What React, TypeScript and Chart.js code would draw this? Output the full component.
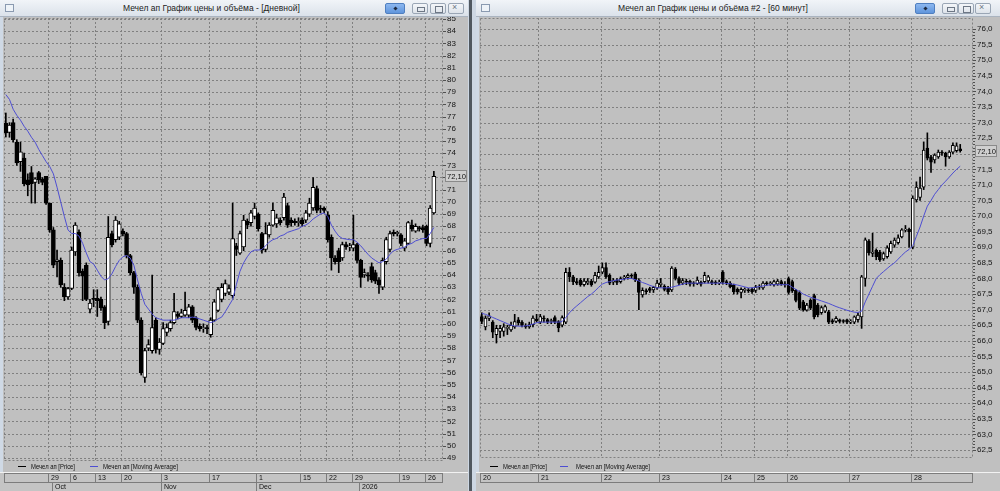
import React, { useEffect, useRef } from "react";
import { Chart, registerables } from "chart.js";

Chart.register(...registerables);

type OHLC = [number, number, number, number]; // open, high, low, close

// ---------------- Daily panel data ----------------
const dailyCandles: OHLC[] = [
  [76.47, 77.29, 75.32, 75.65], [75.7, 76.5, 75.3, 76.3], [76.5, 76.8, 74.9, 75.1], [74.9, 75.1, 73.0, 73.2],
  [73.3, 74.9, 72.5, 74.1], [73.6, 74.0, 71.3, 71.5], [71.8, 72.3, 70.5, 71.4], [72.4, 72.9, 69.9, 71.5],
  [71.6, 72.0, 69.9, 71.9], [72.4, 72.5, 71.5, 71.8], [71.9, 72.0, 71.4, 71.6], [72.1, 72.1, 69.8, 69.9],
  [69.9, 69.9, 67.5, 67.7], [67.7, 67.9, 64.6, 64.8], [65.1, 66.05, 63.85, 65.25], [65.2, 65.4, 63.0, 63.2],
  [63.0, 63.3, 61.9, 62.2], [62.2, 63.0, 62.0, 62.9], [62.9, 66.3, 62.8, 66.05], [65.9, 68.3, 65.6, 68.1],
  [67.5, 67.7, 63.9, 64.2], [64.3, 64.5, 61.9, 63.9], [64.8, 65.0, 61.9, 62.0], [61.2, 62.0, 60.9, 61.7],
  [62.1, 62.8, 61.4, 62.0], [62.1, 62.8, 60.6, 61.9], [62.0, 62.2, 61.1, 61.3], [61.4, 61.5, 59.6, 60.1],
  [60.2, 68.8, 59.9, 67.1], [67.4, 67.6, 66.3, 66.5], [66.9, 68.8, 66.7, 68.5], [67.1, 68.4, 66.9, 68.2],
  [67.6, 67.8, 67.2, 67.4], [67.4, 67.5, 65.4, 65.6], [65.6, 65.7, 64.0, 64.2], [64.2, 64.3, 62.5, 63.0],
  [63.0, 63.2, 60.1, 60.3], [60.3, 60.5, 55.8, 56.0], [55.6, 58.0, 55.2, 57.8], [58.0, 58.7, 57.8, 58.3],
  [57.8, 64.0, 57.6, 59.7], [60.3, 60.5, 57.6, 57.9], [57.9, 58.8, 57.5, 58.5], [58.4, 60.1, 58.3, 59.6],
  [59.3, 60.0, 59.0, 59.7], [59.6, 60.3, 59.4, 60.1], [60.1, 62.5, 60.0, 61.0], [60.8, 61.0, 60.4, 60.6],
  [60.6, 61.2, 60.5, 60.9], [60.7, 62.6, 60.6, 61.1], [60.7, 61.6, 60.5, 61.4], [61.4, 61.5, 60.1, 60.3],
  [60.5, 60.6, 59.5, 59.7], [59.8, 60.0, 59.4, 59.6], [59.6, 60.0, 59.3, 59.7], [59.7, 59.9, 59.2, 59.6],
  [59.1, 60.5, 58.9, 60.3], [60.3, 62.0, 60.2, 61.8], [61.1, 63.0, 61.0, 62.8], [62.0, 63.3, 61.8, 63.0],
  [62.5, 63.6, 62.3, 63.3], [62.6, 63.2, 62.4, 62.9], [62.3, 69.9, 62.1, 67.0], [66.4, 66.6, 65.6, 66.1],
  [65.8, 67.6, 65.7, 67.4], [66.3, 68.9, 66.0, 68.5], [68.4, 68.6, 67.8, 68.1], [68.3, 69.3, 68.0, 69.1],
  [68.8, 69.9, 68.6, 69.5], [69.0, 69.1, 67.6, 67.8], [67.4, 67.5, 65.8, 66.05], [66.1, 68.3, 65.9, 67.4],
  [67.3, 68.3, 67.1, 68.1], [68.1, 69.9, 68.0, 69.3], [68.2, 69.0, 67.9, 68.7], [68.5, 68.7, 68.1, 68.3],
  [68.7, 70.7, 68.5, 70.4], [69.7, 69.9, 67.9, 68.1], [68.5, 68.7, 68.0, 68.3], [68.4, 68.6, 68.1, 68.3],
  [68.3, 68.7, 68.0, 68.4], [68.5, 68.7, 68.0, 68.2], [68.5, 69.3, 68.3, 69.1], [69.0, 70.3, 68.8, 69.9],
  [69.5, 72.0, 69.3, 71.2], [71.1, 71.3, 69.1, 69.3], [69.5, 69.7, 69.1, 69.4], [69.5, 69.6, 69.1, 69.3],
  [68.9, 69.2, 66.7, 66.9], [67.1, 67.3, 64.4, 65.4], [65.4, 65.6, 64.9, 65.1], [66.0, 66.2, 64.2, 65.1],
  [65.4, 66.7, 65.2, 66.5], [66.5, 66.7, 66.1, 66.3], [66.3, 66.6, 66.0, 66.4], [66.2, 68.9, 66.0, 66.5],
  [66.5, 66.6, 65.0, 65.2], [65.2, 65.3, 63.0, 63.8], [64.0, 64.5, 63.8, 64.2], [64.0, 64.2, 63.5, 63.9],
  [64.7, 65.0, 63.4, 63.6], [64.2, 64.4, 63.3, 63.5], [63.6, 63.8, 62.5, 63.2], [63.0, 65.4, 62.8, 65.2],
  [65.1, 67.1, 64.9, 66.9], [66.1, 67.6, 65.9, 67.4], [67.5, 67.7, 67.2, 67.4], [67.4, 67.6, 67.2, 67.5],
  [67.3, 67.4, 66.4, 66.6], [66.2, 67.0, 66.0, 66.8], [66.6, 68.4, 66.5, 68.3], [68.1, 68.5, 67.6, 67.8],
  [67.6, 68.2, 67.5, 68.0], [67.9, 68.0, 67.6, 67.8], [67.9, 68.1, 67.5, 67.7], [68.0, 68.1, 66.4, 66.6],
  [66.6, 69.7, 66.3, 69.5], [69.1, 72.5, 69.0, 72.1],
];

const dailyMA: number[] = [
  78.8, 78.4, 77.6, 77.1, 76.7, 76.2, 75.8, 75.3, 74.9, 74.3,
  73.8, 73.3, 72.9, 72.3, 71.2, 70.0, 68.8, 67.7, 67.4, 67.4,
  67.2, 66.6, 65.8, 65.1, 64.9, 64.4, 63.9, 63.6, 63.7, 64.1,
  64.7, 65.2, 65.5, 65.6, 65.4, 64.8, 63.6, 62.5, 61.6, 61.2,
  60.8, 60.5, 60.4, 60.3, 60.3, 60.3, 60.3, 60.4, 60.5, 60.5,
  60.5, 60.55, 60.5, 60.4, 60.3, 60.2, 60.1, 60.2, 60.4, 60.55,
  61.0, 61.5, 62.0, 63.2, 64.3, 65.0, 65.5, 65.9, 66.05, 66.05,
  66.1, 66.4, 66.7, 66.9, 67.0, 67.2, 67.3, 67.5, 67.6, 67.7,
  67.8, 68.0, 68.1, 68.3, 68.6, 68.8, 69.0, 69.1, 68.8, 68.1,
  67.6, 67.2, 67.0, 66.95, 66.9, 66.9, 66.7, 66.4, 66.05, 65.7,
  65.4, 65.2, 65.0, 65.1, 65.3, 65.7, 66.0, 66.1, 66.2, 66.3,
  66.5, 66.6, 66.8, 66.9, 67.0, 67.0, 67.4, 67.9,
];

const dailyYTicks: number[] = [
  49, 50, 51, 52, 53, 54, 55, 56, 57, 58, 59, 60, 61, 62, 63, 64, 65, 66, 67,
  68, 69, 70, 71, 72, 73, 74, 75, 76, 77, 78, 79, 80, 81, 82, 83, 84, 85,
];
// [label, index of first bar of that week]
const dailyDayTicks: [string, number][] = [
  ["29", 12], ["6", 18], ["13", 25], ["20", 32], ["3", 43], ["17", 56],
  ["1", 69], ["15", 81], ["22", 88], ["29", 95], ["19", 108], ["26", 115],
];
const dailyMonthTicks: [string, number][] = [["Oct", 13], ["Nov", 43], ["Dec", 69], ["2026", 97]];
const dailyLastClose = 72.1;

// ---------------- Hourly panel data ----------------
const hourlyCandles: OHLC[] = [
  [66.78, 66.9, 66.55, 66.62], [66.45, 66.8, 66.35, 66.73], [66.72, 66.9, 66.65, 66.8], [66.6, 66.65, 66.1, 66.28],
  [66.2, 66.5, 65.93, 66.4], [66.3, 66.5, 66.1, 66.4], [66.3, 66.55, 66.15, 66.45], [66.4, 66.5, 66.2, 66.4],
  [66.35, 66.6, 66.3, 66.5], [66.45, 66.85, 66.4, 66.62], [66.67, 66.75, 66.5, 66.58], [66.6, 66.65, 66.45, 66.5],
  [66.48, 66.55, 66.4, 66.45], [66.45, 66.6, 66.4, 66.52], [66.52, 66.8, 66.45, 66.73], [66.7, 66.85, 66.6, 66.65],
  [66.6, 66.85, 66.55, 66.78], [66.72, 66.8, 66.6, 66.7], [66.68, 66.72, 66.55, 66.6], [66.62, 66.7, 66.55, 66.65],
  [66.75, 66.8, 66.55, 66.6], [66.62, 66.65, 66.29, 66.42], [66.5, 66.8, 66.45, 66.75], [66.6, 68.33, 66.55, 68.2],
  [68.2, 68.35, 67.9, 68.05], [68.05, 68.1, 67.8, 67.9], [67.9, 68.0, 67.8, 67.85], [67.95, 68.0, 67.75, 67.8],
  [67.8, 68.0, 67.75, 67.92], [67.85, 68.0, 67.8, 67.92], [67.92, 67.97, 67.75, 67.8], [67.88, 68.2, 67.85, 68.1],
  [68.05, 68.4, 68.0, 68.2], [68.2, 68.5, 68.15, 68.35], [68.35, 68.5, 68.0, 68.05], [68.1, 68.15, 67.8, 67.85],
  [67.88, 68.0, 67.8, 67.95], [67.95, 68.0, 67.8, 67.87], [67.9, 68.05, 67.85, 68.0], [68.0, 68.1, 67.95, 68.05],
  [68.03, 68.15, 67.98, 68.1], [68.1, 68.15, 68.0, 68.07], [68.15, 68.2, 67.9, 67.95], [67.95, 68.0, 67.0, 67.55],
  [67.47, 67.7, 67.4, 67.62], [67.6, 67.67, 67.5, 67.58], [67.68, 67.72, 67.55, 67.62], [67.63, 67.75, 67.55, 67.72],
  [67.7, 67.95, 67.65, 67.85], [67.8, 68.0, 67.72, 67.85], [67.75, 67.8, 67.6, 67.65], [67.7, 67.75, 67.5, 67.58],
  [67.63, 68.38, 67.58, 68.33], [68.3, 68.35, 67.95, 68.0], [68.0, 68.05, 67.8, 67.85], [67.85, 68.0, 67.8, 67.93],
  [67.9, 67.98, 67.8, 67.88], [67.92, 67.95, 67.75, 67.82], [67.85, 67.9, 67.75, 67.83], [67.83, 68.05, 67.8, 67.95],
  [67.88, 67.92, 67.75, 67.82], [67.9, 68.2, 67.85, 68.1], [67.92, 68.1, 67.85, 68.05], [67.9, 67.95, 67.8, 67.85],
  [67.87, 67.93, 67.8, 67.85], [67.85, 67.95, 67.8, 67.88], [68.2, 68.25, 67.82, 67.88], [67.9, 67.95, 67.8, 67.85],
  [67.85, 67.9, 67.7, 67.73], [67.8, 67.82, 67.5, 67.57], [67.65, 67.7, 67.5, 67.57], [67.55, 67.7, 67.38, 67.65],
  [67.62, 67.7, 67.55, 67.64], [67.63, 67.68, 67.55, 67.6], [67.65, 67.7, 67.52, 67.58], [67.62, 67.78, 67.55, 67.72],
  [67.72, 67.8, 67.65, 67.74], [67.7, 67.9, 67.65, 67.85], [67.85, 67.9, 67.78, 67.83], [67.83, 67.9, 67.78, 67.85],
  [67.8, 67.95, 67.75, 67.9], [67.82, 67.97, 67.78, 67.92], [67.9, 67.95, 67.78, 67.82], [67.82, 67.9, 67.72, 67.8],
  [68.0, 68.05, 67.5, 67.55], [67.9, 67.95, 67.55, 67.6], [67.62, 67.65, 67.25, 67.3], [67.55, 67.6, 67.0, 67.05],
  [67.25, 67.3, 66.95, 67.0], [66.98, 67.2, 66.95, 67.15], [67.3, 67.35, 67.0, 67.05], [67.45, 67.5, 66.7, 66.77],
  [67.15, 67.2, 66.77, 66.83], [66.9, 67.12, 66.85, 67.07], [66.95, 67.15, 66.9, 67.1], [66.93, 66.98, 66.55, 66.6],
  [66.65, 66.7, 66.55, 66.6], [66.62, 66.78, 66.58, 66.72], [66.67, 66.7, 66.57, 66.62], [66.63, 66.68, 66.57, 66.62],
  [66.67, 66.7, 66.55, 66.6], [66.6, 66.68, 66.55, 66.62], [66.6, 66.8, 66.55, 66.77], [66.68, 66.9, 66.6, 66.83],
  [66.77, 68.1, 66.4, 68.05], [68.0, 69.3, 67.75, 69.24], [69.2, 69.25, 68.75, 68.82], [68.8, 69.45, 68.7, 68.85],
  [68.9, 68.95, 68.6, 68.7], [68.85, 68.9, 68.55, 68.6], [68.63, 68.85, 68.58, 68.8], [68.7, 69.05, 68.65, 68.98],
  [68.85, 69.2, 68.8, 69.13], [69.07, 69.3, 69.0, 69.23], [69.15, 69.4, 69.1, 69.3], [69.33, 69.6, 69.3, 69.56],
  [69.55, 69.7, 69.5, 69.58], [69.58, 69.62, 69.0, 69.5], [69.0, 70.65, 68.95, 70.58], [70.52, 71.1, 70.45, 70.93],
  [70.6, 71.25, 70.5, 70.9], [70.93, 72.38, 70.85, 72.12], [72.18, 72.67, 71.8, 71.86], [71.9, 71.95, 71.4, 71.73],
  [71.8, 72.0, 71.7, 71.96], [71.9, 72.12, 71.85, 72.05], [72.05, 72.1, 71.95, 72.02], [72.02, 72.05, 71.6, 71.9],
  [71.9, 72.1, 71.85, 72.05], [72.05, 72.35, 72.0, 72.27], [72.1, 72.35, 72.05, 72.25], [72.16, 72.3, 72.05, 72.1],
];

const hourlyMA: number[] = [
  66.88, 66.85, 66.8, 66.75, 66.7, 66.65, 66.6, 66.55, 66.5, 66.48,
  66.47, 66.47, 66.48, 66.5, 66.54, 66.58, 66.6, 66.6, 66.6, 66.6,
  66.6, 66.6, 66.62, 66.75, 66.9, 67.02, 67.12, 67.22, 67.32, 67.42,
  67.5, 67.6, 67.72, 67.82, 67.87, 67.9, 67.93, 67.95, 67.96, 67.98,
  68.0, 68.0, 67.96, 67.92, 67.87, 67.83, 67.78, 67.74, 67.7, 67.7,
  67.7, 67.7, 67.72, 67.75, 67.78, 67.82, 67.85, 67.85, 67.85, 67.85,
  67.85, 67.85, 67.85, 67.85, 67.85, 67.85, 67.85, 67.84, 67.83, 67.81,
  67.79, 67.76, 67.73, 67.7, 67.7, 67.72, 67.74, 67.76, 67.78, 67.8,
  67.8, 67.8, 67.8, 67.8, 67.8, 67.72, 67.65, 67.58, 67.5, 67.45,
  67.4, 67.36, 67.32, 67.28, 67.24, 67.2, 67.15, 67.1, 67.06, 67.02,
  66.98, 66.95, 66.92, 66.91, 66.95, 67.25, 67.5, 67.75, 68.0, 68.12,
  68.22, 68.32, 68.42, 68.5, 68.62, 68.74, 68.85, 68.93, 69.05, 69.35,
  69.65, 70.0, 70.32, 70.5, 70.7, 70.85, 71.0, 71.12, 71.25, 71.38,
  71.5, 71.6,
];

const hourlyYTicks: number[] = [
  62.5, 63.0, 63.5, 64.0, 64.5, 65.0, 65.5, 66.0, 66.5, 67.0, 67.5, 68.0, 68.5, 69.0,
  69.5, 70.0, 70.5, 71.0, 71.5, 72.0, 72.5, 73.0, 73.5, 74.0, 74.5, 75.0, 75.5, 76.0,
];
const hourlyDayTicks: [string, number][] = [
  ["20", 0], ["21", 16], ["22", 33], ["23", 49], ["24", 66], ["25", 75], ["26", 84], ["27", 101], ["28", 118],
];
const hourlyLastClose = 72.1;

// ---------------- styling ----------------
const PANEL_BG = "#c0c0c0";
const PLOT_BG = "#c0c0c0";
const STRIP_BG = "#c4c4c4";
const GRID = "#808080";
const MA_COLOR = "#4e4ed2";
const FONT = '"Liberation Sans", Arial, sans-serif';
const CANVAS_H = 474;

interface PanelCfg {
  left: number;
  width: number;
  title: string;
  titleLeft: number;
  candles: OHLC[];
  ma: number[];
  slots: number;
  yMin: number;
  yMax: number;
  yTicks: number[];
  decimals: number;
  minorStep: number;
  dayTicks: [string, number][];
  monthTicks: [string, number][] | null;
  lastClose: number;
  padLeft: number;
  plotBottom: number;
  axisW: number;
  bodyW: number;
  legend: [number, number, number, number, number, number];
  buttons: [number, number, number, number];
}

function fmt(v: number, d: number) {
  return v.toFixed(d).replace(".", ",");
}

function chromePlugin(cfg: PanelCfg) {
  return {
    id: "chrome",
    beforeDraw(chart: any) {
      const { ctx, width, height, chartArea: a } = chart;
      ctx.save();
      ctx.fillStyle = PANEL_BG;
      ctx.fillRect(0, 0, width, height);
      ctx.fillStyle = "#cfd9e5";
      ctx.fillRect(0, 0, 3, height);
      ctx.fillStyle = PLOT_BG;
      ctx.fillRect(a.left, a.top, a.right - a.left, a.bottom - a.top);
      ctx.restore();
    },
    beforeDatasetsDraw(chart: any) {
      const { ctx, chartArea: a, scales } = chart;
      const xs = scales.x;
      const ys = scales.y;
      const half = (xs.getPixelForValue(1) - xs.getPixelForValue(0)) / 2;
      ctx.save();
      ctx.strokeStyle = GRID;
      ctx.lineWidth = 1;
      ctx.setLineDash([2, 2]);
      ctx.beginPath();
      for (const v of cfg.yTicks) {
        const py = Math.round(ys.getPixelForValue(v)) + 0.5;
        ctx.moveTo(a.left, py);
        ctx.lineTo(a.right, py);
      }
      for (const [, i] of cfg.dayTicks) {
        const px = Math.round(xs.getPixelForValue(i) - half) + 0.5;
        if (px < a.left + 3) continue;
        ctx.moveTo(px, a.top);
        ctx.lineTo(px, a.bottom);
      }
      ctx.stroke();
      ctx.strokeRect(
        Math.round(a.left) + 0.5,
        Math.round(a.top) + 0.5,
        Math.round(a.right - a.left) - 1,
        Math.round(a.bottom - a.top) - 1
      );
      ctx.restore();
    },
    afterDraw(chart: any) {
      const { ctx, width, chartArea: a, scales } = chart;
      const xs = scales.x;
      const ys = scales.y;
      const half = (xs.getPixelForValue(1) - xs.getPixelForValue(0)) / 2;
      const R = Math.round(a.right);
      ctx.save();
      ctx.setLineDash([]);
      ctx.lineWidth = 1;
      // axis tick marks
      ctx.strokeStyle = "#505050";
      ctx.beginPath();
      for (const v of cfg.yTicks) {
        const py = Math.round(ys.getPixelForValue(v)) + 0.5;
        ctx.moveTo(R, py);
        ctx.lineTo(R + 3, py);
      }
      if (cfg.minorStep > 0) {
        const n = Math.round((cfg.yTicks[cfg.yTicks.length - 1] - cfg.yTicks[0]) / cfg.minorStep);
        for (let k = 0; k <= n; k++) {
          const v = cfg.yTicks[0] + k * cfg.minorStep;
          const py = Math.round(ys.getPixelForValue(v)) + 0.5;
          ctx.moveTo(R, py);
          ctx.lineTo(R + 2, py);
        }
      }
      ctx.stroke();

      // last price badge
      const by = Math.round(ys.getPixelForValue(cfg.lastClose));
      ctx.fillStyle = "#cfcfcf";
      ctx.fillRect(R + 2, by - 6, 22, 12);
      ctx.strokeStyle = "#8a8a8a";
      ctx.strokeRect(R + 2.5, by - 5.5, 21, 11);
      ctx.fillStyle = "#101010";
      ctx.font = `8px ${FONT}`;
      ctx.textBaseline = "middle";
      ctx.textAlign = "left";
      ctx.fillText(fmt(cfg.lastClose, 2), R + 4, by + 0.5, 19);

      // legend
      const ly = 449;
      const [pd, pt, md, mt, pw, mw] = cfg.legend;
      const priceLabel = chart.data.datasets[1].label;
      const maLabel = chart.data.datasets[0].label;
      ctx.strokeStyle = "#000";
      ctx.beginPath();
      ctx.moveTo(pd, ly + 0.5);
      ctx.lineTo(pd + 8, ly + 0.5);
      ctx.stroke();
      ctx.strokeStyle = MA_COLOR;
      ctx.beginPath();
      ctx.moveTo(md, ly + 0.5);
      ctx.lineTo(md + 8, ly + 0.5);
      ctx.stroke();
      ctx.fillStyle = "#111";
      ctx.font = `7.5px ${FONT}`;
      ctx.fillText(priceLabel, pt, ly + 1, pw);
      ctx.fillText(maLabel, mt, ly + 1, mw);

      // date strip
      const top = 455;
      ctx.fillStyle = "#f2f2f2";
      ctx.fillRect(0, top, width, 1);
      ctx.fillStyle = STRIP_BG;
      ctx.fillRect(0, top + 1, width, CANVAS_H - top - 1);
      const L = Math.round(a.left);
      const r0 = top + 1.5;
      const r1 = r0 + 9;
      ctx.strokeStyle = "#7c7c7c";
      ctx.beginPath();
      ctx.moveTo(L, r0);
      ctx.lineTo(R, r0);
      ctx.moveTo(L, r1);
      ctx.lineTo(R, r1);
      ctx.moveTo(L + 0.5, r0);
      ctx.lineTo(L + 0.5, r1);
      ctx.moveTo(R - 0.5, r0);
      ctx.lineTo(R - 0.5, r1);
      for (const [, i] of cfg.dayTicks) {
        const px = Math.round(xs.getPixelForValue(i) - half) + 0.5;
        ctx.moveTo(px, r0);
        ctx.lineTo(px, r1);
      }
      if (cfg.monthTicks) {
        for (const [, i] of cfg.monthTicks) {
          const px = Math.round(xs.getPixelForValue(i) - half) + 0.5;
          ctx.moveTo(px, r1);
          ctx.lineTo(px, CANVAS_H);
        }
      }
      ctx.stroke();
      ctx.fillStyle = "#111";
      ctx.font = `7px ${FONT}`;
      ctx.textBaseline = "middle";
      for (const [lab, i] of cfg.dayTicks) {
        const px = Math.round(xs.getPixelForValue(i) - half);
        ctx.fillText(lab, Math.max(px, L) + 3, r0 + 5);
      }
      if (cfg.monthTicks) {
        for (const [lab, i] of cfg.monthTicks) {
          const px = Math.round(xs.getPixelForValue(i) - half);
          ctx.fillText(lab, px + 3, r1 + 5);
        }
      }
      ctx.restore();
    },
  };
}

function TitleBar({ cfg }: { cfg: PanelCfg }) {
  const [b0, b1, b2, b3] = cfg.buttons;
  const gray = (x: number, glyph: React.ReactNode) => (
    <div
      style={{
        position: "absolute",
        left: x,
        top: 3,
        width: 16,
        height: 11,
        boxSizing: "border-box",
        border: "1px solid #9aa6b5",
        borderRadius: 2,
        background: "linear-gradient(#f4f6f9,#dde3ea)",
      }}
    >
      {glyph}
    </div>
  );
  return (
    <div
      style={{
        position: "absolute",
        left: 0,
        top: 0,
        width: cfg.width,
        height: 17,
        boxSizing: "border-box",
        background: "linear-gradient(#f1f4f8,#dbe2ea)",
        borderBottom: "1px solid #aab4c0",
      }}
    >
      <div
        style={{
          position: "absolute",
          left: 5,
          top: 4,
          width: 9,
          height: 8,
          boxSizing: "border-box",
          border: "1px solid #8a9ab0",
          background: "#eef3f8",
        }}
      />
      <span
        style={{
          position: "absolute",
          left: cfg.titleLeft,
          top: 3,
          font: `8.5px ${FONT}`,
          color: "#1b1b1b",
          whiteSpace: "nowrap",
        }}
      >
        {cfg.title}
      </span>
      <div
        style={{
          position: "absolute",
          left: b0,
          top: 3,
          width: 20,
          height: 11,
          boxSizing: "border-box",
          border: "1px solid #4f7fc0",
          borderRadius: 2,
          background: "linear-gradient(#8db8f0,#5f95dc)",
        }}
      >
        <div style={{ position: "absolute", left: 8, top: 3, width: 3, height: 3, background: "#1d2a40", transform: "rotate(45deg)" }} />
      </div>
      {gray(b1, <div style={{ position: "absolute", left: 4, top: 3, width: 6, height: 3, border: "1px solid #6d7785" }} />)}
      {gray(b2, <div style={{ position: "absolute", left: 4, top: 2, width: 6, height: 5, border: "1px solid #6d7785" }} />)}
      {gray(
        b3,
        <div style={{ position: "absolute", left: 3, top: -2, font: `9px ${FONT}`, color: "#6d7785" }}>×</div>
      )}
    </div>
  );
}

function Panel({ cfg }: { cfg: PanelCfg }) {
  const ref = useRef<HTMLCanvasElement>(null);
  useEffect(() => {
    const canvas = ref.current;
    if (!canvas) return;
    const labels = Array.from({ length: cfg.slots }, (_, i) => String(i));
    const bodies = cfg.candles.map((c) => [Math.min(c[0], c[3]), Math.max(c[0], c[3])]);
    const bodyColors = cfg.candles.map((c) => (c[3] >= c[0] ? "#ffffff" : "#000000"));
    const wicks = cfg.candles.map((c) => [c[2], c[1]]);
    const chart = new Chart(canvas, {
      type: "bar",
      data: {
        labels,
        datasets: [
          {
            type: "line",
            label: "Мечел ап [Moving Average]",
            data: cfg.ma,
            borderColor: MA_COLOR,
            borderWidth: 1,
            pointRadius: 0,
            tension: 0,
            order: 0,
          } as any,
          {
            type: "bar",
            label: "Мечел ап [Price]",
            data: bodies,
            backgroundColor: bodyColors,
            borderColor: "#000000",
            borderWidth: 1,
            borderSkipped: false,
            barThickness: cfg.bodyW,
            minBarLength: 1,
            grouped: false,
            order: 1,
          } as any,
          {
            type: "bar",
            label: "wick",
            data: wicks,
            backgroundColor: "#000000",
            borderWidth: 0,
            barThickness: 1,
            grouped: false,
            order: 2,
          } as any,
        ],
      },
      options: {
        animation: false,
        responsive: false,
        devicePixelRatio: 1,
        events: [],
        layout: { padding: { left: cfg.padLeft, top: 1, right: 0, bottom: CANVAS_H - cfg.plotBottom } },
        plugins: { legend: { display: false }, tooltip: { enabled: false } },
        scales: {
          x: { type: "category", display: false, offset: true, grid: { display: false } },
          y: {
            type: "linear",
            position: "right",
            min: cfg.yMin,
            max: cfg.yMax,
            afterBuildTicks: (s: any) => {
              s.ticks = cfg.yTicks.map((v) => ({ value: v }));
            },
            afterFit: (s: any) => {
              s.width = cfg.axisW;
              s.paddingTop = 0;
              s.paddingBottom = 0;
            },
            grid: { display: false, drawTicks: false },
            border: { display: false },
            ticks: {
              autoSkip: false,
              padding: 4,
              color: "#141414",
              font: { family: FONT, size: 8 },
              callback: (v: any) => fmt(Number(v), cfg.decimals),
            },
          },
        },
      } as any,
      plugins: [chromePlugin(cfg)],
    });
    return () => chart.destroy();
  }, [cfg]);
  return (
    <div style={{ position: "absolute", left: cfg.left, top: 0, width: cfg.width, height: 491, overflow: "hidden" }}>
      <TitleBar cfg={cfg} />
      <canvas
        ref={ref}
        width={cfg.width}
        height={CANVAS_H}
        style={{ position: "absolute", left: 0, top: 17, width: cfg.width, height: CANVAS_H }}
      />
    </div>
  );
}

const dailyCfg: PanelCfg = {
  left: 0,
  width: 468,
  title: "Мечел ап График цены и объёма - [Дневной]",
  titleLeft: 123,
  candles: dailyCandles,
  ma: dailyMA,
  slots: 120,
  yMin: 48.75,
  yMax: 85.08,
  yTicks: dailyYTicks,
  decimals: 0,
  minorStep: 0,
  dayTicks: dailyDayTicks,
  monthTicks: dailyMonthTicks,
  lastClose: dailyLastClose,
  padLeft: 4,
  plotBottom: 444,
  axisW: 25,
  bodyW: 4,
  legend: [18, 31, 90, 103, 44, 75],
  buttons: [385, 412, 430, 448],
};

const hourlyCfg: PanelCfg = {
  left: 476,
  width: 524,
  title: "Мечел ап График цены и объёма #2 - [60 минут]",
  titleLeft: 142,
  candles: hourlyCandles,
  ma: hourlyMA,
  slots: 135,
  yMin: 62.243,
  yMax: 76.353,
  yTicks: hourlyYTicks,
  decimals: 1,
  minorStep: 0.1,
  dayTicks: hourlyDayTicks,
  monthTicks: null,
  lastClose: hourlyLastClose,
  padLeft: 4,
  plotBottom: 441,
  axisW: 27,
  bodyW: 3,
  legend: [14, 27, 84, 100, 44, 74],
  buttons: [439, 466, 482, 499],
};

export default function App() {
  return (
    <div style={{ position: "relative", width: 1000, height: 491, overflow: "hidden", background: "#cdd7e3" }}>
      <style>{"html,body{margin:0;padding:0;background:#cdd7e3;}"}</style>
      <Panel cfg={dailyCfg} />
      <div style={{ position: "absolute", left: 469, top: 0, width: 3, height: 491, background: "#505860" }} />
      <Panel cfg={hourlyCfg} />
    </div>
  );
}
